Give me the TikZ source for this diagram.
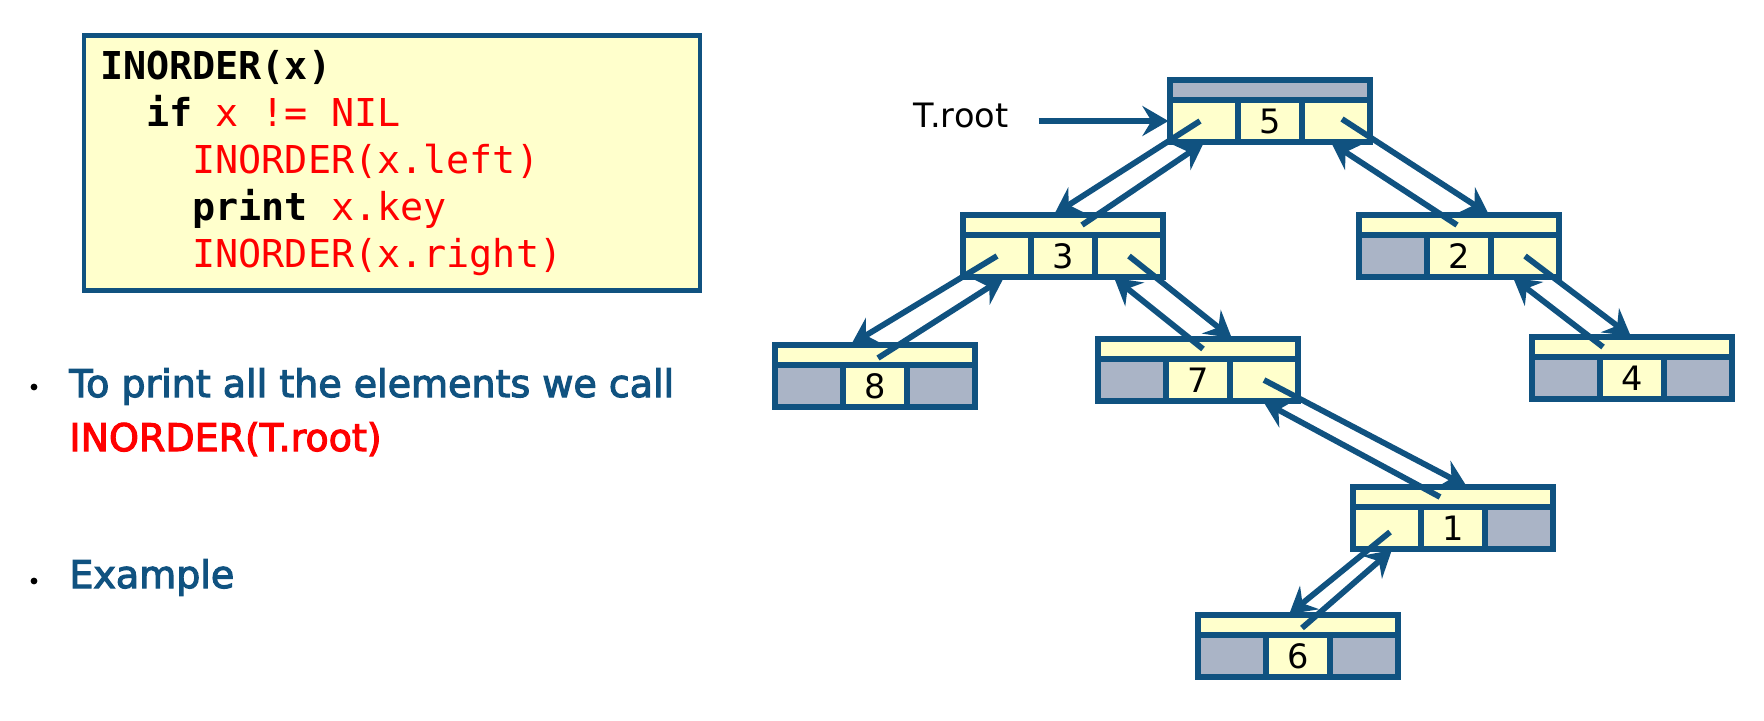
\documentclass[tikz,border=0pt]{standalone}
\usepackage{fontspec}
\setmainfont{DejaVu Sans}
\setmonofont{DejaVu Sans Mono}
\newfontfamily\bulletfont[FakeBold=3]{DejaVu Sans}
\DeclareRobustCommand{\codefont}{\ttfamily\fontsize{19.2}{23.5}\selectfont}
\newcommand{\codesp}{\hspace*{0.602em}}
\usetikzlibrary{positioning, arrows.meta, calc}
\definecolor{tblue}{RGB}{16, 82, 128}
\definecolor{tyellow}{RGB}{255, 255, 204}
\definecolor{tgray}{RGB}{170, 180, 198}
\definecolor{tred}{RGB}{255, 0, 0}

\begin{document}
\begin{tikzpicture}[
		% units are pixels of the slide, y grows downwards
		x=0.5pt, y=-0.5pt,
		font=\fontsize{16.8}{20}\selectfont,
		% styles
		part/.style={rectangle, draw=tblue, line width=2.6pt, fill=tyellow, outer sep=0pt, inner sep=0pt, minimum height=21pt},
		keycell/.style={part, minimum width=32pt},
		ptrcell/.style={part, minimum width=34pt},
		nilcell/.style={ptrcell, fill=tgray},
		parstrip/.style={part, minimum width=100pt, minimum height=10pt},
		ptr/.style={-{Stealth[length=13pt, width=15pt, inset=4.5pt]}, line width=2.9pt, draw=tblue, shorten >=0.8pt},
		codebox/.style={rectangle, draw=tblue, line width=2.4pt, fill=tyellow, minimum width=308pt, minimum height=127.5pt, text width=292pt, align=left, font=\codefont},
		bullettext/.style={text=tblue, font=\bulletfont\fontsize{19}{26.5}\selectfont, inner sep=0pt, anchor=base west},
		bulletdot/.style={circle, fill=black, inner sep=0pt, minimum size=3.4pt}
		]
		\useasboundingbox (0,0) rectangle (1764,720);
		
		% ==========================================
		% Pseudo code
		% ==========================================
		\node[codebox] (code) at (392,163) {\textbf{INORDER(x)}\\
			\codesp\codesp\textbf{if}\codesp\textcolor{tred}{x\codesp!=\codesp NIL}\\
			\codesp\codesp\codesp\codesp\textcolor{tred}{INORDER(x.left)}\\
			\codesp\codesp\codesp\codesp\textbf{print}\codesp\textcolor{tred}{x.key}\\
			\codesp\codesp\codesp\codesp\textcolor{tred}{INORDER(x.right)}};
		
		% ==========================================
		% Bullets
		% ==========================================
		\node[bullettext] (b1) at (69,397) {To print all the elements we call};
		\node[bullettext, text=tred] (b1b) at (69,451) {INORDER(T.root)};
		\node[bullettext] (b2) at (69,588) {Example};
		\node[bulletdot] (d1) at (34,387) {};
		\node[bulletdot] (d2) at (34,581) {};
		
		% ==========================================
		% Tree nodes: parent strip on top, left | key | right below
		% ==========================================
		
		% 5 (root)
		\node[keycell] (k5) at (1270,121) {5};
		\node[ptrcell, left=0pt of k5] (l5) {};
		\node[ptrcell, right=0pt of k5] (r5) {};
		\node[parstrip, above=0pt of k5, fill=tgray] (s5) {};
		
		% 3
		\node[keycell] (k3) at (1063,256) {3};
		\node[ptrcell, left=0pt of k3] (l3) {};
		\node[ptrcell, right=0pt of k3] (r3) {};
		\node[parstrip, above=0pt of k3] (s3) {};
		
		% 2
		\node[keycell] (k2) at (1459,256) {2};
		\node[nilcell, left=0pt of k2] (l2) {};
		\node[ptrcell, right=0pt of k2] (r2) {};
		\node[parstrip, above=0pt of k2] (s2) {};
		
		% 8
		\node[keycell] (k8) at (875,386) {8};
		\node[nilcell, left=0pt of k8] (l8) {};
		\node[nilcell, right=0pt of k8] (r8) {};
		\node[parstrip, above=0pt of k8] (s8) {};
		
		% 7
		\node[keycell] (k7) at (1198,380) {7};
		\node[nilcell, left=0pt of k7] (l7) {};
		\node[ptrcell, right=0pt of k7] (r7) {};
		\node[parstrip, above=0pt of k7] (s7) {};
		
		% 4
		\node[keycell] (k4) at (1632,378) {4};
		\node[nilcell, left=0pt of k4] (l4) {};
		\node[nilcell, right=0pt of k4] (r4) {};
		\node[parstrip, above=0pt of k4] (s4) {};
		
		% 1
		\node[keycell] (k1) at (1453,528) {1};
		\node[ptrcell, left=0pt of k1] (l1) {};
		\node[nilcell, right=0pt of k1] (r1) {};
		\node[parstrip, above=0pt of k1] (s1) {};
		
		% 6
		\node[keycell] (k6) at (1298,656) {6};
		\node[nilcell, left=0pt of k6] (l6) {};
		\node[nilcell, right=0pt of k6] (r6) {};
		\node[parstrip, above=0pt of k6] (s6) {};
		
		% ==========================================
		% Pointers (child pointer down, parent pointer up)
		% ==========================================
		\node[inner xsep=15pt] (troot) at (961,115) {T.root};
		\draw[ptr] (troot.east |- l5.west) -- (l5.west);
		
		\draw[ptr] ($(l5.center)+(-4,0)$) -- ($(s3.north)+(-10,0)$);
		\draw[ptr] ($(s3.center)+(19,0)$) -- ($(l5.south)+(1,0)$);
		
		\draw[ptr] ($(r5.center)+(6,-2)$) -- ($(s2.north)+(31,0)$);
		\draw[ptr] ($(s2.center)+(-2,0)$) -- ($(r5.south)+(-6,0)$);
		
		\draw[ptr] (l3.center) -- ($(s8.north)+(-25,0)$);
		\draw[ptr] ($(s8.center)+(3,3)$) -- ($(l3.south)+(8,0)$);
		
		\draw[ptr] (r3.center) -- ($(s7.north)+(35,0)$);
		\draw[ptr] ($(s7.center)+(5,0)$) -- ($(r3.south)+(-16,0)$);
		
		\draw[ptr] (r2.center) -- (s4.north);
		\draw[ptr] ($(s4.center)+(-29,0)$) -- ($(r2.south)+(-13,0)$);
		
		\draw[ptr] (r7.center) -- ($(s1.north)+(15,0)$);
		\draw[ptr] ($(s1.center)+(-13,0)$) -- ($(r7.south)+(-2,0)$);
		
		\draw[ptr] ($(l1.center)+(3,4)$) -- ($(s6.north)+(-10,0)$);
		\draw[ptr] ($(s6.center)+(4,3)$) -- ($(l1.south)+(6,0)$);
		
	\end{tikzpicture}
\end{document}
